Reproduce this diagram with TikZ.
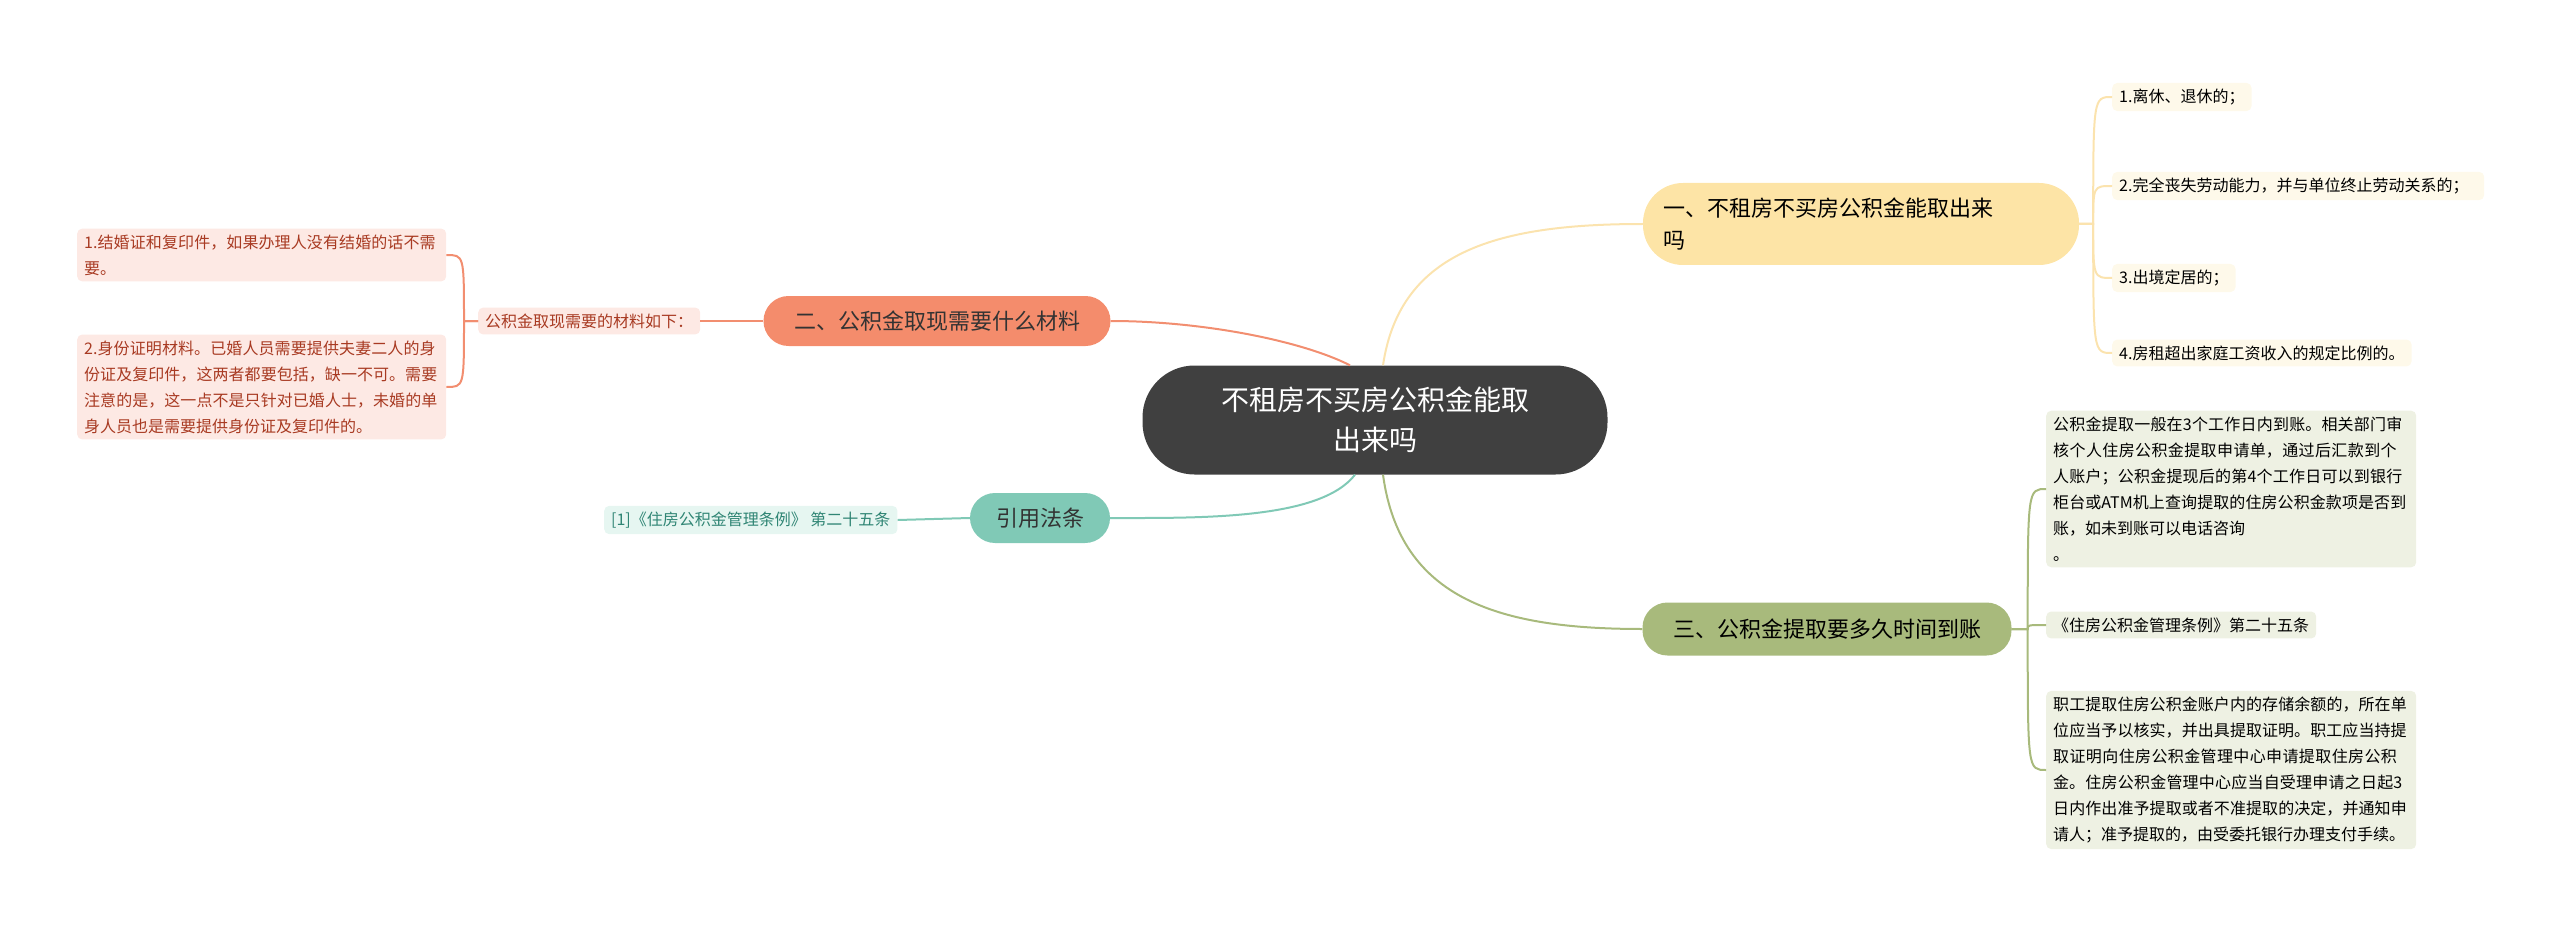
\documentclass[tikz,border=0pt]{standalone}
\usepackage{fontspec}
\newfontfamily\cjk{Noto Sans CJK SC}
\XeTeXlinebreaklocale "zh"
\XeTeXlinebreakskip=0pt plus 1pt
\begin{document}
\begin{tikzpicture}[x=1pt,y=-1pt,
 leaf/.style={rounded corners=5pt,anchor=west,inner xsep=7pt,inner ysep=6pt,align=left,font=\cjk\fontsize{16}{26}\selectfont},
 br/.style={rounded corners=25pt,minimum height=50pt,inner xsep=20pt,font=\cjk\fontsize{22}{32}\selectfont}]
\useasboundingbox (0,0) rectangle (2560,936);
\definecolor{yb}{HTML}{FDE4A6}\definecolor{yf}{HTML}{FEF9EA}
\definecolor{gb}{HTML}{A8BA7C}\definecolor{gf}{HTML}{EEF1E3}
\definecolor{rb}{HTML}{F48C6C}\definecolor{rf}{HTML}{FDE9E4}\definecolor{rt}{HTML}{A83A22}
\definecolor{tb}{HTML}{80C9B6}\definecolor{tf}{HTML}{E6F6F1}\definecolor{tt}{HTML}{2F8574}
\definecolor{yL}{HTML}{FBE3AE}\definecolor{gL}{HTML}{A8BA7C}\definecolor{rL}{HTML}{F28E70}\definecolor{tL}{HTML}{80C9B6}
\node[fill=black!75,text=white,rounded corners=52pt,minimum width=465pt,minimum height=109pt,align=center,font=\cjk\fontsize{28}{40}\selectfont] (c) at (1375,420) {不租房不买房公积金能取\\出来吗};
% branch 1
\node[br,fill=yb,minimum width=436pt,minimum height=82pt,rounded corners=40pt,align=left,text width=396pt] (b1) at (1861,224) {一、不租房不买房公积金能取出来\\吗};
\node[leaf,fill=yf] (l1) at (2112,97) {1.离休、退休的；};
\node[leaf,fill=yf,text width=358pt] (l2) at (2112,186) {2.完全丧失劳动能力，并与单位终止劳动关系的；};
\node[leaf,fill=yf] (l3) at (2112,278) {3.出境定居的；};
\node[leaf,fill=yf] (l4) at (2112,353) {4.房租超出家庭工资收入的规定比例的。};
% branch 3
\node[br,fill=gb,minimum width=369pt,minimum height=53pt] (b3) at (1827,629) {三、公积金提取要多久时间到账};
\node[leaf,fill=gf,text width=356pt] (g1) at (2046,489) {公积金提取一般在3个工作日内到账。相关部门审核个人住房公积金提取申请单，通过后汇款到个人账户；公积金提现后的第4个工作日可以到银行柜台或ATM机上查询提取的住房公积金款项是否到账，如未到账可以电话咨询\\。};
\node[leaf,fill=gf] (g2) at (2046,625) {《住房公积金管理条例》第二十五条};
\node[leaf,fill=gf,text width=356pt] (g3) at (2046,770) {职工提取住房公积金账户内的存储余额的，所在单位应当予以核实，并出具提取证明。职工应当持提取证明向住房公积金管理中心申请提取住房公积金。住房公积金管理中心应当自受理申请之日起3日内作出准予提取或者不准提取的决定，并通知申请人；准予提取的，由受委托银行办理支付手续。};
% branch 2
\node[br,fill=rb,text=black!80,minimum width=347pt] (b2) at (937,321) {二、公积金取现需要什么材料};
\node[leaf,fill=rf,text=rt] (s2) at (478,321) {公积金取现需要的材料如下：};
\node[leaf,fill=rf,text=rt,text width=355pt] (r1) at (77,255) {1.结婚证和复印件，如果办理人没有结婚的话不需要。};
\node[leaf,fill=rf,text=rt,text width=355pt] (r2) at (77,387) {2.身份证明材料。已婚人员需要提供夫妻二人的身份证及复印件，这两者都要包括，缺一不可。需要注意的是，这一点不是只针对已婚人士，未婚的单身人员也是需要提供身份证及复印件的。};
% branch 4
\node[br,fill=tb,text=black!80,minimum width=140pt] (b4) at (1040,518) {引用法条};
\node[leaf,fill=tf,text=tt] (t1) at (604,520) {[1]《住房公积金管理条例》 第二十五条};
% center connectors
\draw[yL,line width=2pt] (c.north)++(8,0) .. controls (1400,250) and (1500,224) .. (b1.west);
\draw[gL,line width=2pt] (c.south)++(8,0) .. controls (1400,600) and (1500,629) .. (b3.west);
\draw[rL,line width=2pt] (c.north)++(-25,0) .. controls (1300,340) and (1200,321) .. (b2.east);
\draw[tL,line width=2pt] (c.south)++(-20,0) .. controls (1320,520) and (1200,518) .. (b4.east);
% leaf connectors
\foreach \l in {l1,l2,l3,l4}{\draw[yL,line width=2pt] (b1.east) -- ++(14,0) coordinate (sp) .. controls (sp |- \l.west) .. (\l.west);}
\foreach \l in {g1,g2,g3}{\draw[gL,line width=2pt] (b3.east) -- ++(16,0) coordinate (sp) .. controls (sp |- \l.west) .. (\l.west);}
\foreach \l in {r1,r2}{\draw[rL,line width=2pt] (s2.west) -- ++(-14,0) coordinate (sp) .. controls (sp |- \l.east) .. (\l.east);}
\draw[rL,line width=2pt] (b2.west) -- (s2.east);
\draw[tL,line width=2pt] (b4.west) -- (t1.east);
\end{tikzpicture}
\end{document}
